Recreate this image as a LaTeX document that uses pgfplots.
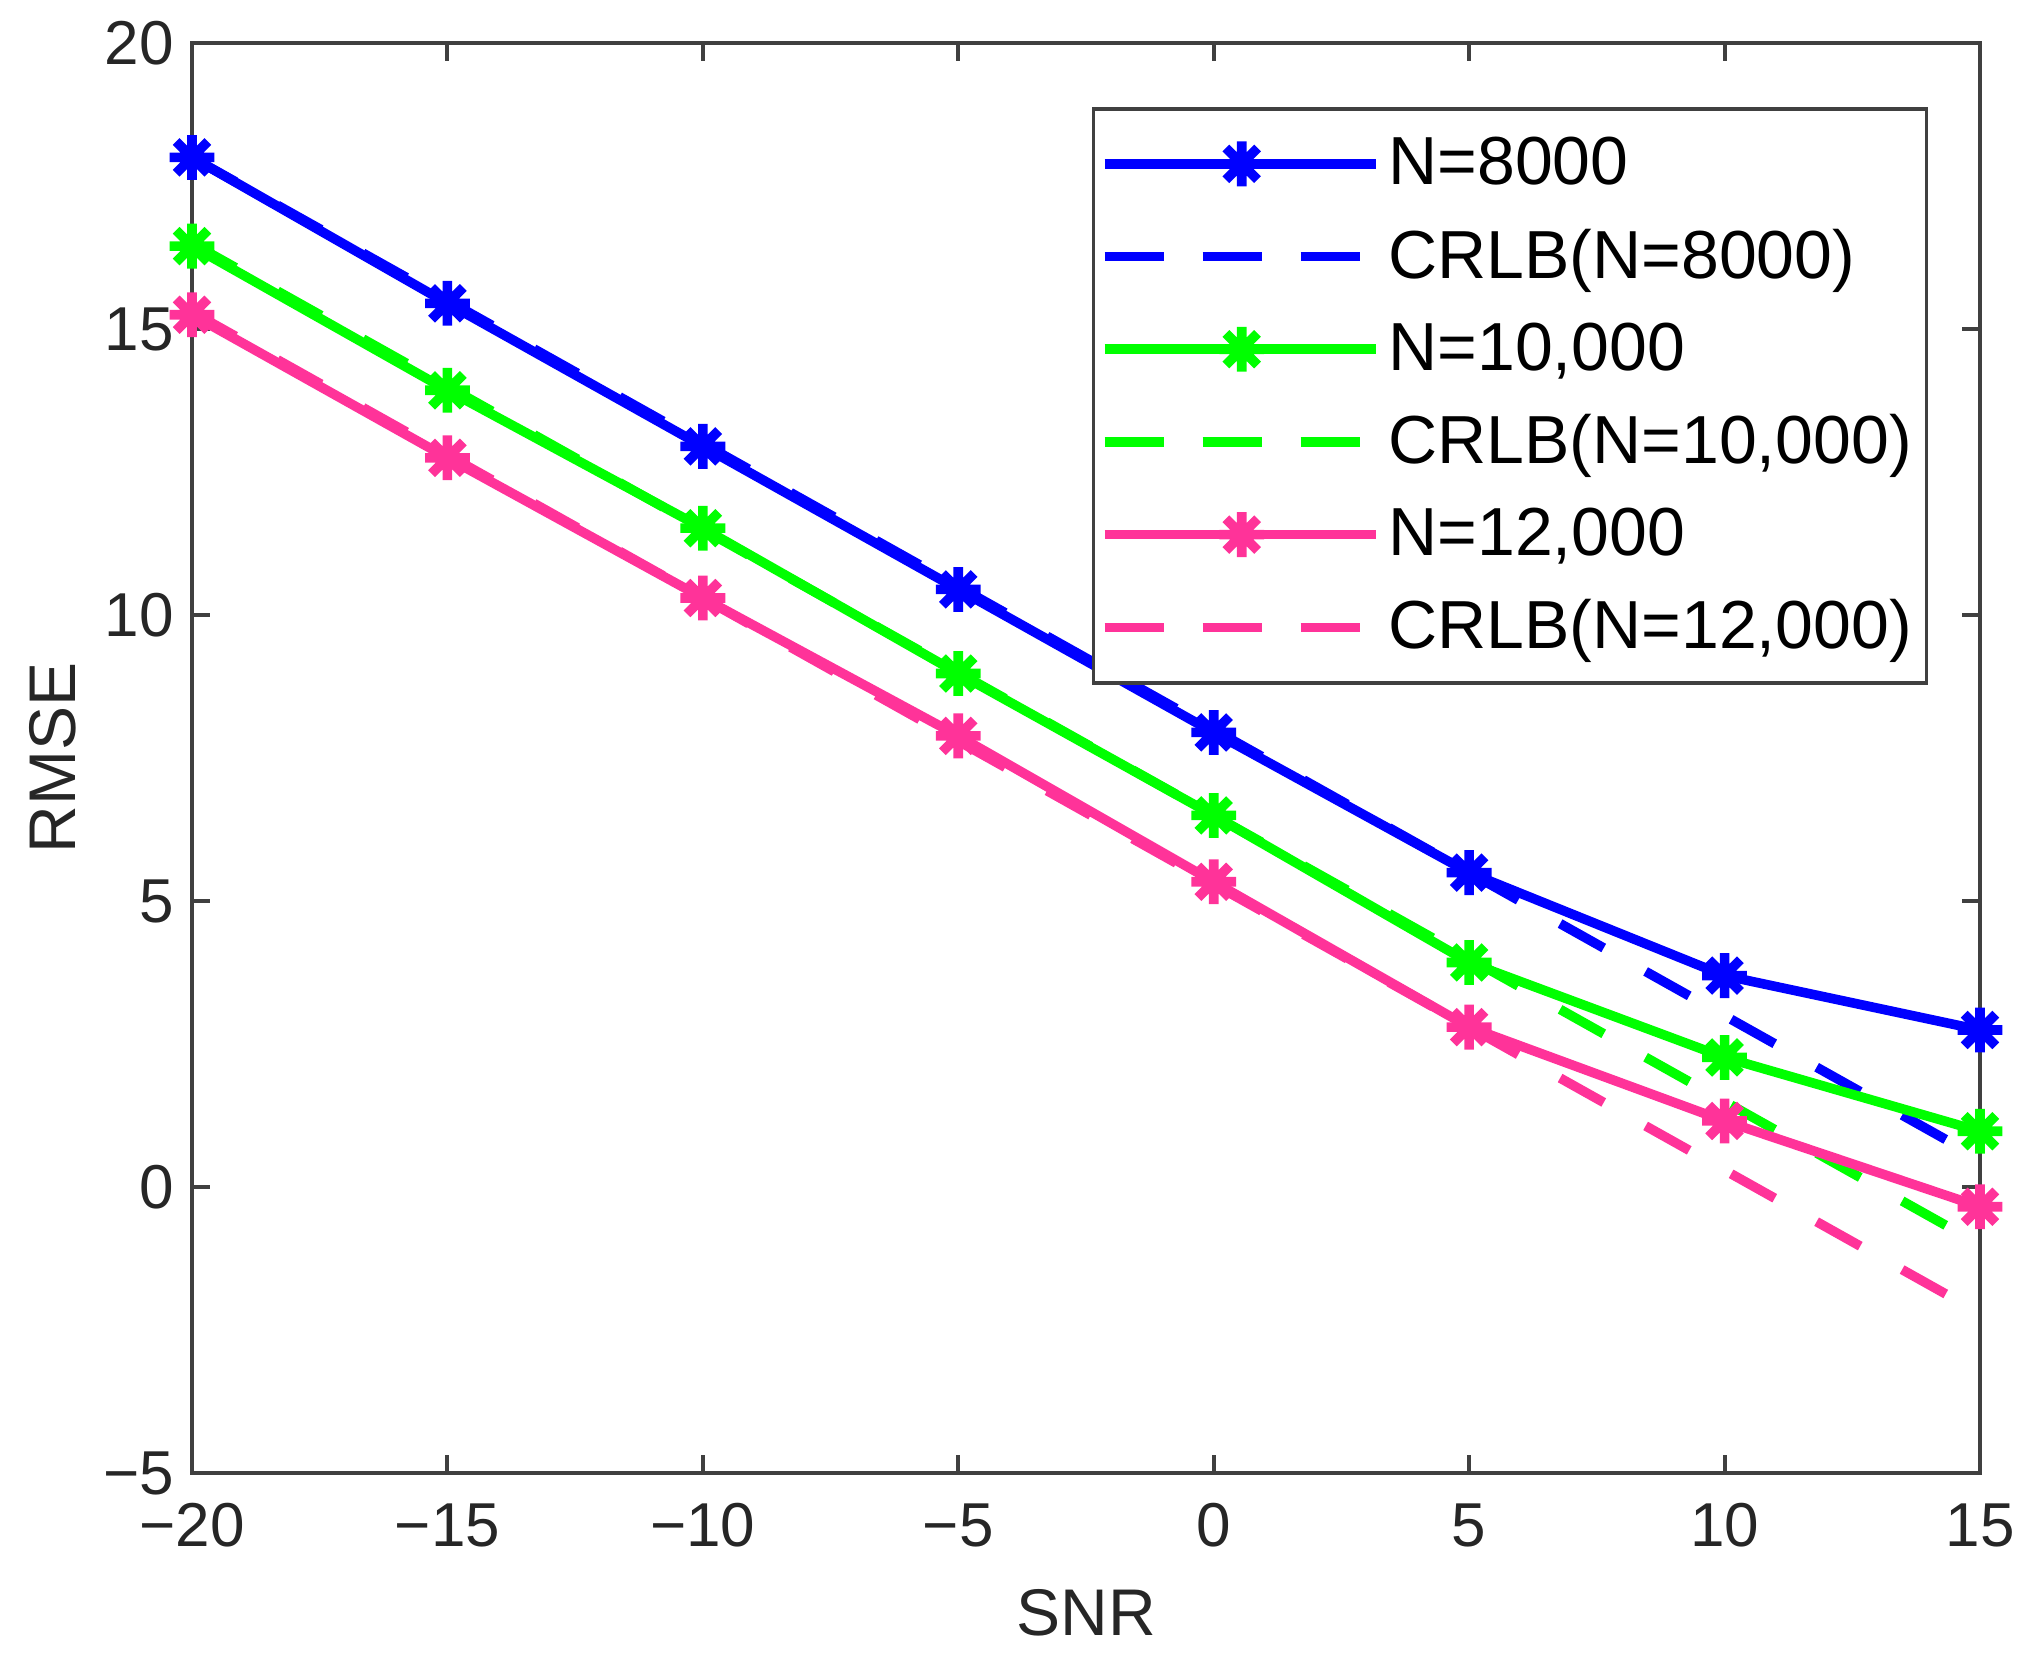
\documentclass[border=0pt]{standalone}
\usepackage{fontspec}
\setmainfont{Liberation Sans}
\usepackage{pgfplots}
\pgfplotsset{compat=1.18}
\definecolor{cblue}{RGB}{0,0,255}
\definecolor{cgreen}{RGB}{0,255,0}
\definecolor{cpink}{RGB}{255,51,153}
\definecolor{axgray}{RGB}{64,64,64}
\pgfdeclareplotmark{mstar}{%
 \pgfpathmoveto{\pgfqpoint{-\pgfplotmarksize}{0pt}}\pgfpathlineto{\pgfqpoint{\pgfplotmarksize}{0pt}}%
 \pgfpathmoveto{\pgfqpoint{0pt}{-\pgfplotmarksize}}\pgfpathlineto{\pgfqpoint{0pt}{\pgfplotmarksize}}%
 \pgfpathmoveto{\pgfqpoint{-.7071\pgfplotmarksize}{-.7071\pgfplotmarksize}}\pgfpathlineto{\pgfqpoint{.7071\pgfplotmarksize}{.7071\pgfplotmarksize}}%
 \pgfpathmoveto{\pgfqpoint{-.7071\pgfplotmarksize}{.7071\pgfplotmarksize}}\pgfpathlineto{\pgfqpoint{.7071\pgfplotmarksize}{-.7071\pgfplotmarksize}}%
 \pgfusepathqstroke}
\begin{document}
\begin{tikzpicture}
\useasboundingbox (-48bp,-46.9bp) rectangle (461.5bp,368.35bp);
\begin{axis}[
  scale only axis,
  width=447bp, height=357.6bp,
  xmin=-20, xmax=15, ymin=-5, ymax=20,
  xtick={-20,-15,...,15},
  ytick={-5,0,...,20},
  xticklabels={−20,−15,−10,−5,0,5,10,15},
  yticklabels={−5,0,5,10,15,20},
  tick align=inside,
  major tick length=4.5bp,
  axis line style={axgray, line width=1bp},
  every tick/.style={axgray, line width=1bp},
  tick label style={font=\fontsize{15.5bp}{18bp}\selectfont, text=black!85},
  xticklabel style={yshift=-4bp},
  yticklabel style={xshift=-1bp},
  label style={font=\fontsize{16.5bp}{19bp}\selectfont, text=black!85},
  xlabel={SNR}, ylabel={RMSE},
  xlabel style={at={(axis description cs:0.5,-0.0974)}, anchor=center},
  ylabel style={at={(axis description cs:-0.0779,0.5)}, anchor=center, rotate=0},
  clip=false,
  legend cell align=left,
  legend style={at={(axis description cs:0.971,0.955)}, anchor=north east,
    draw=axgray, line width=0.9bp, font=\fontsize{17bp}{20bp}\selectfont,
    inner xsep=1.6bp, inner ysep=5bp, row sep=5.6bp, text=black},
  legend image code/.code={%
    \path (-2.3bp,0bp) -- (65.5bp,0bp);
    \draw[mark repeat=2,mark phase=2] plot coordinates {(0bp,0bp) (32bp,0bp) (64bp,0bp)};},
  every axis plot/.append style={line width=2.4bp},
]
\addplot[color=cblue, mark=mstar, mark size=5.6bp, mark options={solid}] coordinates {
(-20,18) (-15,15.45) (-10,12.95) (-5,10.45) (0,7.95) (5,5.5) (10,3.7) (15,2.75)};
\addlegendentry{N=8000}
\addplot[color=cblue, dash pattern=on 12.5bp off 12bp] coordinates {
(-20,18) (-15,15.5) (-10,13) (-5,10.5) (0,8) (5,5.5) (10,3) (15,0.5)};
\addlegendentry{CRLB(N=8000)}
\addplot[color=cgreen, mark=mstar, mark size=5.6bp, mark options={solid}] coordinates {
(-20,16.45) (-15,13.93) (-10,11.52) (-5,8.98) (0,6.5) (5,3.93) (10,2.27) (15,0.98)};
\addlegendentry{N=10,000}
\addplot[color=cgreen, dash pattern=on 12.5bp off 12bp] coordinates {
(-20,16.5) (-15,14) (-10,11.5) (-5,9) (0,6.5) (5,4) (10,1.5) (15,-1)};
\addlegendentry{CRLB(N=10,000)}
\addplot[color=cpink, mark=mstar, mark size=5.6bp, mark options={solid}] coordinates {
(-20,15.25) (-15,12.75) (-10,10.3) (-5,7.89) (0,5.34) (5,2.8) (10,1.16) (15,-0.34)};
\addlegendentry{N=12,000}
\addplot[color=cpink, dash pattern=on 12.5bp off 12bp] coordinates {
(-20,15.3) (-15,12.8) (-10,10.3) (-5,7.8) (0,5.3) (5,2.8) (10,0.3) (15,-2.2)};
\addlegendentry{CRLB(N=12,000)}
\end{axis}
\end{tikzpicture}
\end{document}
